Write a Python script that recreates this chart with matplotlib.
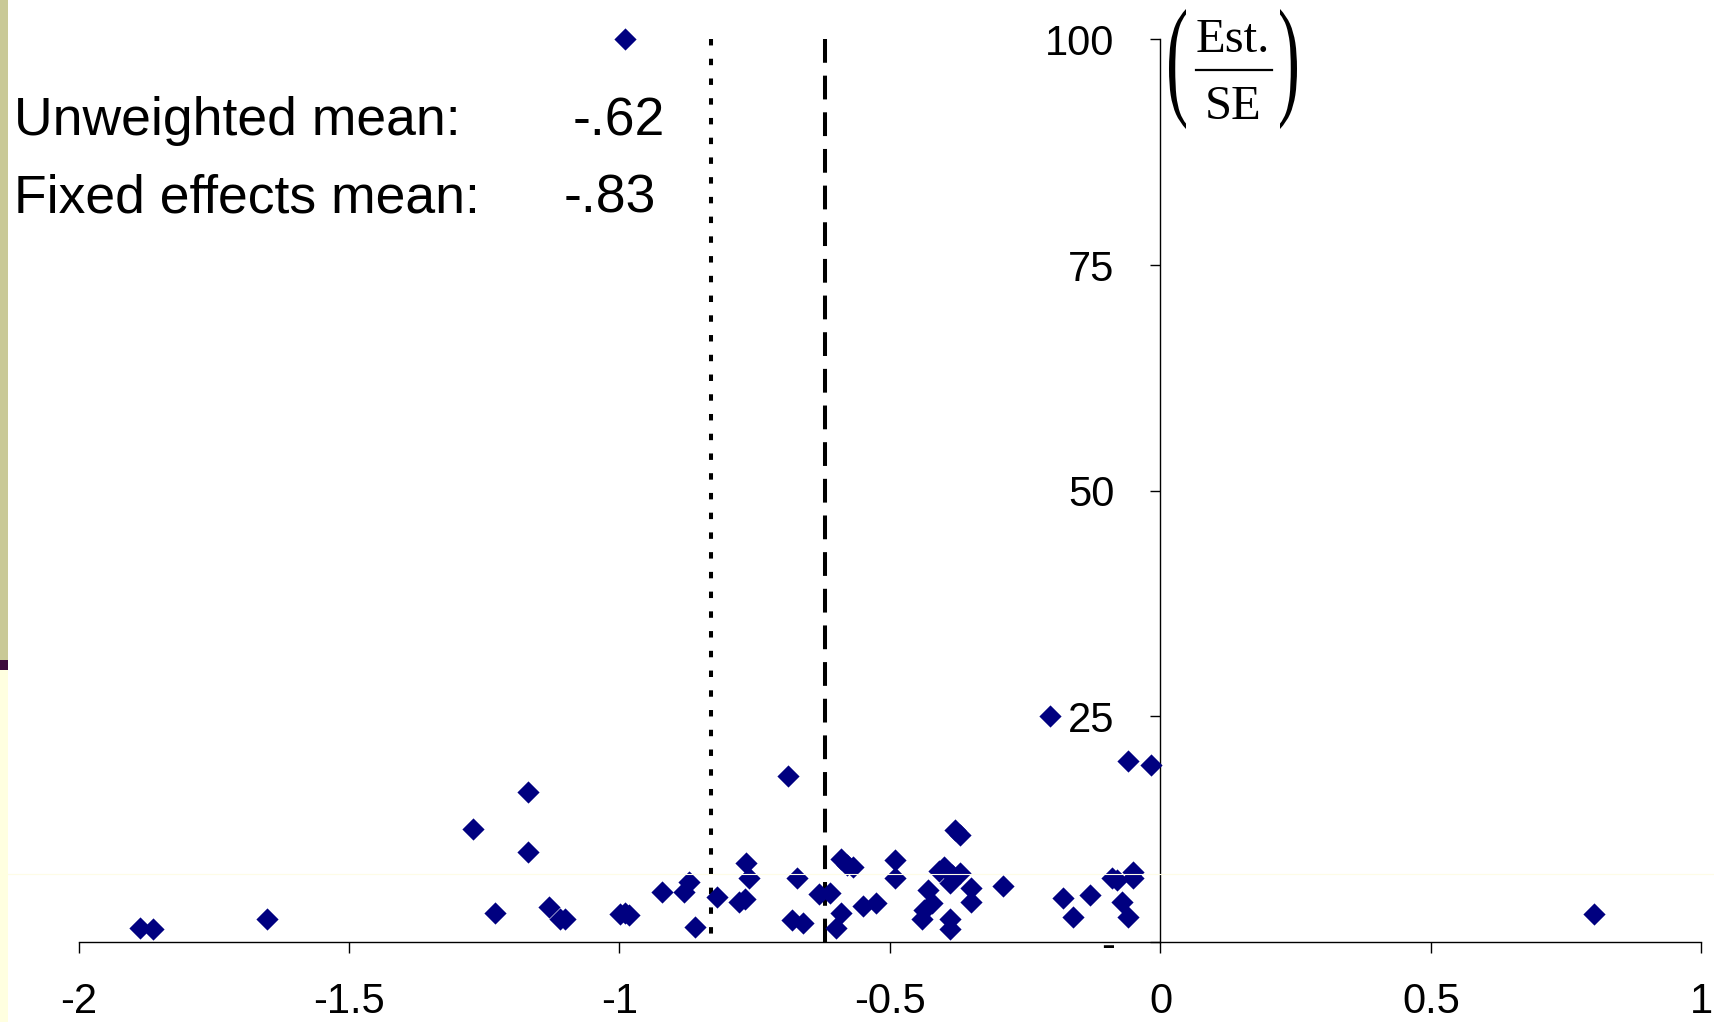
import matplotlib
matplotlib.use("Agg")
import matplotlib.pyplot as plt
from matplotlib.patches import Rectangle, PathPatch
from matplotlib.lines import Line2D
from matplotlib.ticker import FixedLocator, FixedFormatter
from matplotlib.textpath import TextPath
from matplotlib.font_manager import FontProperties
from matplotlib.transforms import Affine2D, IdentityTransform

# elasticity estimates (x) vs their t-statistics Est./SE (y)
est = [-1.886, -1.862, -1.651, -1.270, -1.230, -1.170, -1.170, -1.130, -1.110, -1.101,
       -0.999, -0.990, -0.982, -0.990, -0.921, -0.881, -0.872, -0.860, -0.820, -0.780,
       -0.768, -0.766, -0.760, -0.689, -0.681, -0.671, -0.660, -0.631, -0.610, -0.600,
       -0.591, -0.591, -0.580, -0.569, -0.549, -0.525, -0.491, -0.491, -0.441, -0.438,
       -0.429, -0.423, -0.410, -0.400, -0.390, -0.385, -0.390, -0.390, -0.380, -0.371,
       -0.371, -0.350, -0.350, -0.291, -0.204, -0.180, -0.161, -0.130, -0.090, -0.081,
       -0.072, -0.060, -0.060, -0.050, -0.050, -0.018, 0.801]
tstat = [1.6, 1.45, 2.55, 12.5, 3.2, 16.65, 10.0, 3.9, 2.6, 2.5,
         3.15, 3.2, 3.0, 100.0, 5.5, 5.5, 6.7, 1.65, 4.95, 4.45,
         4.75, 8.8, 7.05, 18.4, 2.4, 7.1, 2.1, 5.3, 5.4, 1.5,
         3.2, 9.2, 8.5, 8.3, 4.0, 4.35, 9.1, 7.05, 2.55, 3.55,
         5.75, 4.3, 7.9, 8.3, 6.5, 7.4, 2.6, 1.4, 12.4, 11.85,
         7.6, 5.95, 4.45, 6.25, 25.0, 4.85, 2.8, 5.2, 7.05, 6.9,
         4.45, 2.8, 20.0, 7.8, 7.05, 19.6, 3.05]

unweighted_mean = -0.62
fixed_mean = -0.83
xticks = [-2, -1.5, -1, -0.5, 0, 0.5, 1]
xtick_labels = ["-2", "-1.5", "-1", "-0.5", "0", "0.5", "1"]
yticks = [0, 25, 50, 75, 100]
ytick_labels = ["-", "25", "50", "75", "100"]

W, H = 1715, 1022
plt.rcParams["font.family"] = ["Liberation Sans", "DejaVu Sans"]

fig = plt.figure(figsize=(W / 100, H / 100), dpi=100, facecolor="white")

# slide decoration on the left edge
fig.patches.append(Rectangle((0, 1 - 660 / H), 8 / W, 660 / H, transform=fig.transFigure,
                             facecolor="#c9c997", edgecolor="none", zorder=0))
fig.patches.append(Rectangle((0, 1 - 670 / H), 8 / W, 10 / H, transform=fig.transFigure,
                             facecolor="#3c0a3c", edgecolor="none", zorder=0))
fig.patches.append(Rectangle((0, 0), 8 / W, 1 - 670 / H, transform=fig.transFigure,
                             facecolor="#ffffe0", edgecolor="none", zorder=0))
fig.lines.append(Line2D([0, 1], [1 - 874 / H] * 2, transform=fig.transFigure,
                        color="#fefce6", lw=0.8, zorder=0))

ax = fig.add_axes([78.5 / W, 80 / H, (1701.5 - 78.5) / W, (942 - 39.4) / H])
ax.patch.set_visible(False)

ax.scatter(est, tstat, marker="D", s=128, color="#000080", linewidths=0,
           zorder=3, clip_on=False)

ax.set_xlim(-2, 1)
ax.set_ylim(0, 100)

# mean lines, drawn top-down so the pattern starts at the top
ytop_bot = ax.get_ylim()[::-1]
ax.plot([fixed_mean] * 2, ytop_bot, color="black", lw=2.9,
        linestyle=(0, (1.6, 3.3)), zorder=2)
ax.plot([unweighted_mean] * 2, ytop_bot, color="black", lw=2.9,
        linestyle=(0, (5.9, 3.2)), zorder=2)

for s in ["top", "right"]:
    ax.spines[s].set_visible(False)
ax.spines["left"].set_position(("data", 0))
ax.spines["left"].set_linewidth(1.0)
ax.spines["bottom"].set_linewidth(1.0)

ax.xaxis.set_major_locator(FixedLocator(xticks))
ax.xaxis.set_major_formatter(FixedFormatter(xtick_labels))
ax.yaxis.set_major_locator(FixedLocator(yticks))
ax.yaxis.set_major_formatter(FixedFormatter(ytick_labels))
ax.tick_params(axis="x", direction="out", length=8, width=1, pad=21, labelsize=30)
ax.tick_params(axis="y", direction="out", length=7, width=1, pad=26, labelsize=30)

fig.text(14 / W, 1 - 121 / H, "Unweighted mean:", ha="left", va="center", fontsize=38.5)
fig.text(665 / W, 1 - 121 / H, "-.62", ha="right", va="center", fontsize=38.5)
fig.text(14 / W, 1 - 198 / H, "Fixed effects mean:", ha="left", va="center", fontsize=38.5)
fig.text(656 / W, 1 - 198 / H, "-.83", ha="right", va="center", fontsize=38.5)

# (Est. / SE) label, built from pieces: numerator, bar, denominator, tall parens
serif = FontProperties(family="Liberation Serif")
fig.text(1233 / W, 1 - 40 / H, "Est.", ha="center", va="center", fontsize=35,
         family="Liberation Serif")
fig.text(1233 / W, 1 - 107 / H, "SE", ha="center", va="center", fontsize=35,
         family="Liberation Serif")
fig.lines.append(Line2D([1196 / W, 1272 / W], [1 - 70 / H] * 2, transform=fig.transFigure,
                        color="black", lw=1.6))


def paren(ch, x0, x1, ytop, ybot):
    p = TextPath((0, 0), ch, size=100, prop=serif)
    ext = p.get_extents()
    tr = (Affine2D().translate(-ext.x0, -ext.y0)
          .scale((x1 - x0) / ext.width, (ybot - ytop) / ext.height)
          .translate(x0, H - ybot))
    fig.patches.append(PathPatch(tr.transform_path(p), transform=IdentityTransform(),
                                 facecolor="black", edgecolor="none"))


paren("(", 1169, 1186, 9, 129)
paren(")", 1280, 1297, 9, 129)

fig.savefig("out.png", dpi=100)
